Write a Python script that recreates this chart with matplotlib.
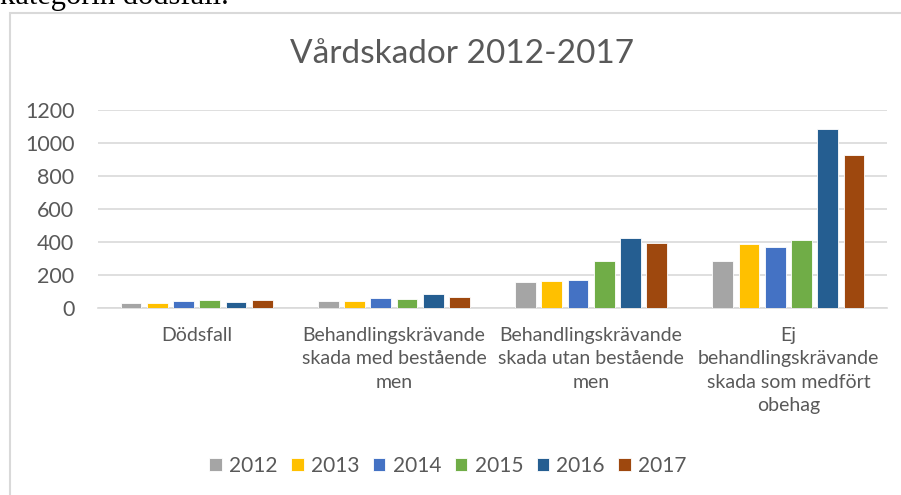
import matplotlib
matplotlib.use("Agg")
import matplotlib.pyplot as plt
import numpy as np
from matplotlib.patches import Rectangle

categories = ["Dödsfall",
              "Behandlingskrävande\nskada med bestående\nmen",
              "Behandlingskrävande\nskada utan bestående\nmen",
              "Ej\nbehandlingskrävande\nskada som medfört\nobehag"]
years = ["2012", "2013", "2014", "2015", "2016", "2017"]
v2012 = [28, 42, 155, 285]
v2013 = [26, 39, 164, 385]
v2014 = [42, 57, 170, 367]
v2015 = [45, 51, 285, 412]
v2016 = [36, 79, 424, 1087]
v2017 = [45, 65, 392, 927]
series = [v2012, v2013, v2014, v2015, v2016, v2017]
colors = ["#A5A5A5", "#FFC000", "#4472C4", "#70AD47", "#255E91", "#9E480E"]
yticks = [0, 200, 400, 600, 800, 1000, 1200]

plt.rcParams['font.family'] = ['Lato', 'DejaVu Sans']
W, H = 901, 495
fig = plt.figure(figsize=(W/100, H/100), dpi=100)

# chart border
fig.patches.append(Rectangle((9.5/W, -0.1), 1.2, (H-12.5)/H + 0.1, transform=fig.transFigure,
                             fill=False, edgecolor="#D9D9D9", linewidth=1.5))
# cut-off document text above chart
fig.text(0.0, 1 - 4/H, "kategorin dödsfall.", family="Liberation Serif", fontsize=22,
         color="black", ha="left", va="baseline")

ax = fig.add_axes([98/W, 1 - 307.5/H, (887-98)/W, (307.5-110)/H])
x = np.arange(len(categories))
step = 0.133
bw = 0.106
for i, (vals, c, yr) in enumerate(zip(series, colors, years)):
    ax.bar(x + (i - 2.5) * step, vals, width=bw, color=c, edgecolor="white",
           linewidth=0.6, label=yr, zorder=3)

ax.set_xlim(-0.5, len(categories) - 0.5)
ax.set_ylim(0, 1200)
ax.set_yticks(yticks)
ax.set_yticklabels([str(t) for t in yticks])
ax.grid(axis="y", color="#D9D9D9", linewidth=1.2, zorder=0)
ax.tick_params(axis="y", length=0, labelsize=15.5, labelcolor="#595959", pad=17)
ax.tick_params(axis="x", length=0, labelsize=14, labelcolor="#595959", pad=14)
ax.set_xticks(x)
ax.set_xticklabels(categories, linespacing=1.45)
for s in ["top", "right", "left"]:
    ax.spines[s].set_visible(False)
ax.spines["bottom"].set_color("#D9D9D9")
ax.spines["bottom"].set_linewidth(1.2)

fig.text(462/W, 1 - 63/H, "Vårdskador 2012-2017", fontsize=24, color="#595959",
         ha="center", va="baseline")

fig.legend(loc="center", bbox_to_anchor=(448/W, 1 - 466/H), ncol=6, frameon=False,
           fontsize=15, handlelength=0.6, handleheight=0.6, handletextpad=0.35,
           columnspacing=0.65, labelcolor="#595959")

fig.savefig("out.png", dpi=100)
